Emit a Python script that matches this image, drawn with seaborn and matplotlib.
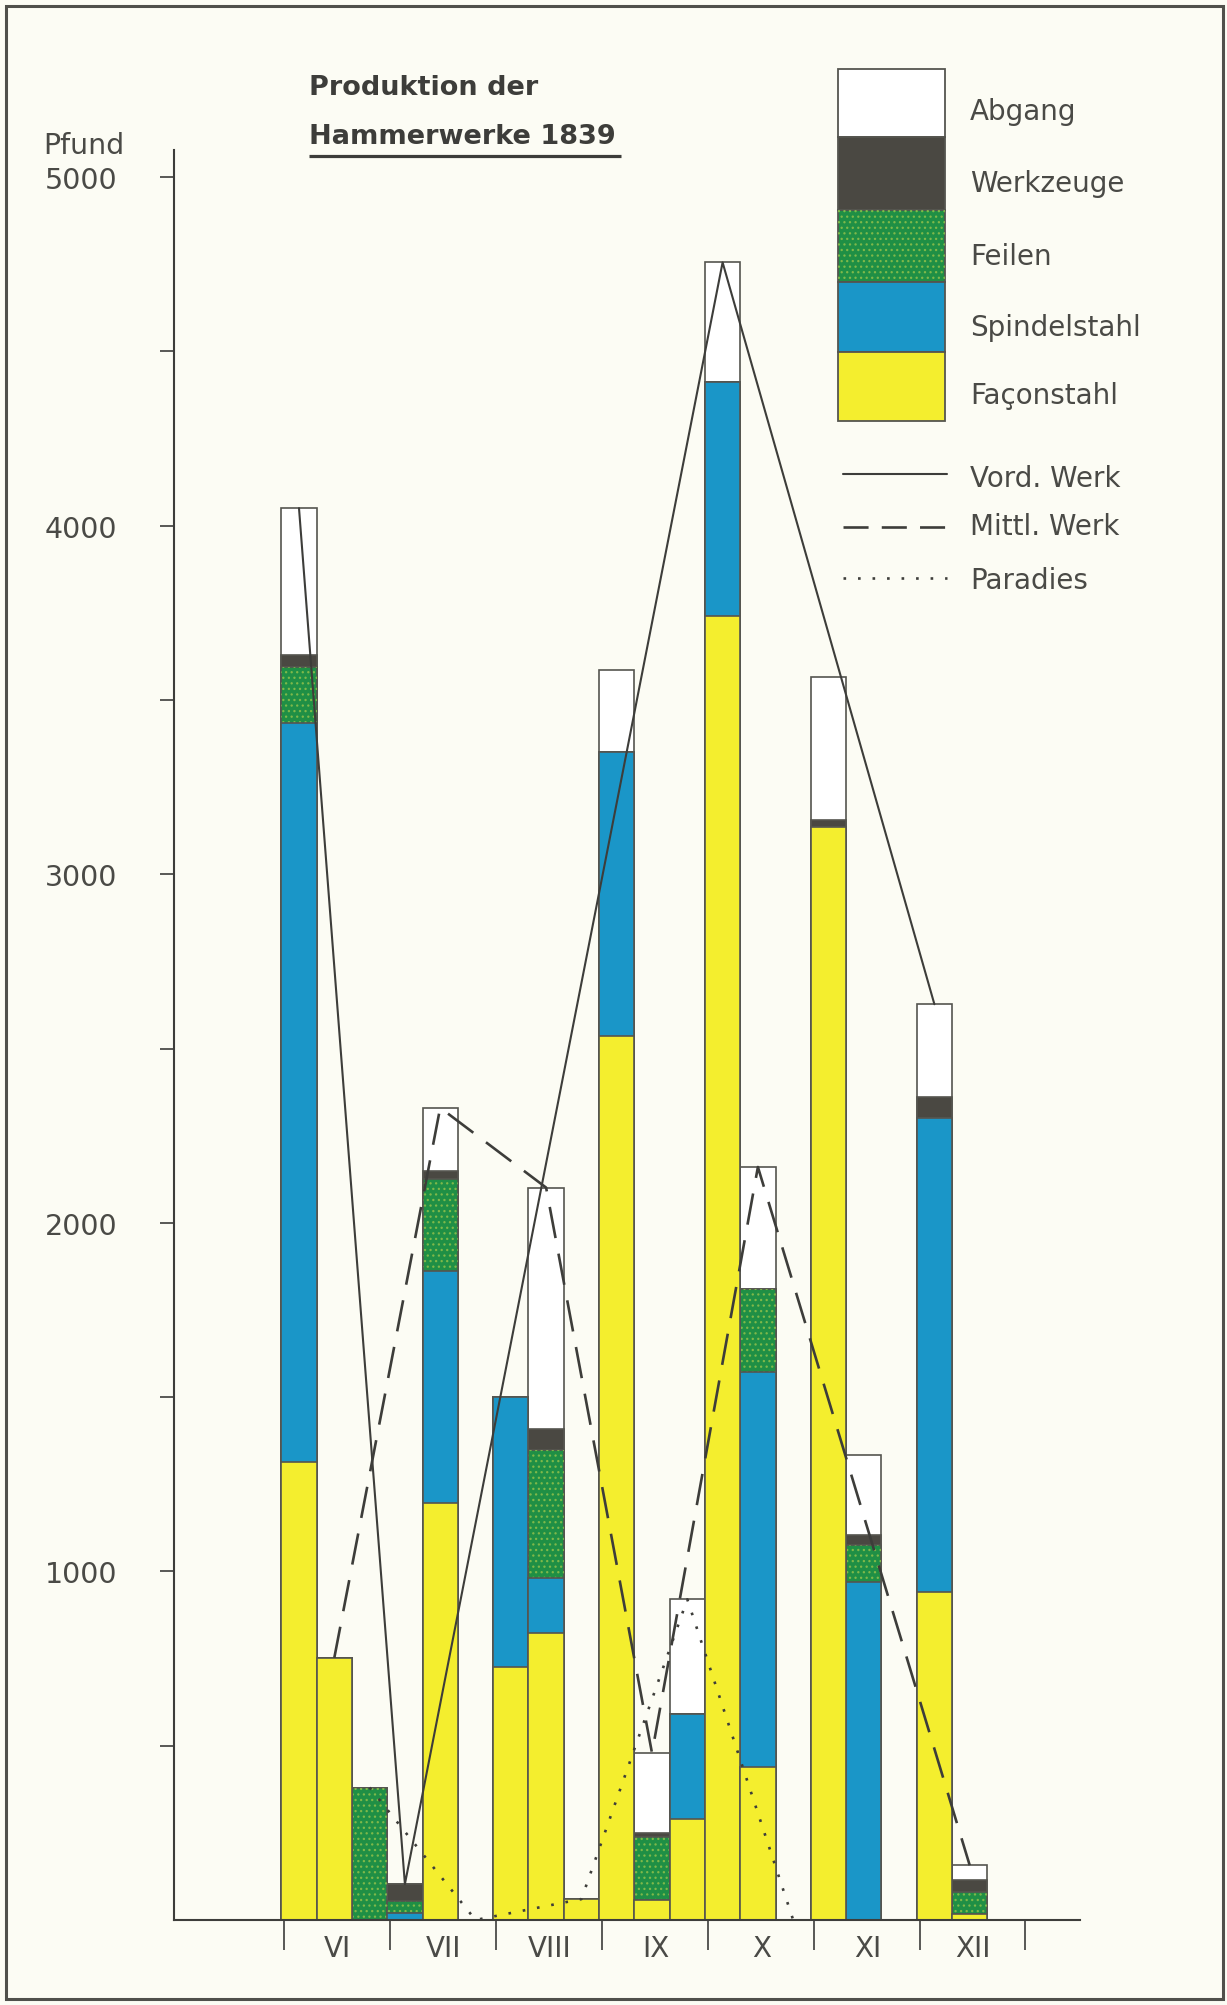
import numpy as np
import pandas as pd
import matplotlib
matplotlib.use("Agg")
import matplotlib.pyplot as plt
from matplotlib.patches import Rectangle
import seaborn as sns

# ------------------------------------------------------------
# Data: production of the hammer works 1839 (pounds)
# one bar per works and month: Vord. Werk, Mittl. Werk, Paradies
# ------------------------------------------------------------
months = ["VI", "VII", "VIII", "IX", "X", "XI", "XII"]
works = ["Vord. Werk", "Mittl. Werk", "Paradies"]

facon = [1315, 752, 0, 0, 1195, 0, 725, 822, 60, 2536, 57, 290,
         3740, 438, 0, 3135, 0, 0, 940, 18, 0]
spindel = [2120, 0, 0, 20, 667, 0, 775, 158, 0, 814, 0, 300,
           673, 1135, 0, 0, 970, 0, 1360, 0, 0]
feilen = [160, 0, 380, 35, 263, 0, 0, 368, 0, 0, 180, 0,
          0, 238, 0, 0, 105, 0, 0, 63, 0]
werkzeuge = [35, 0, 0, 48, 25, 0, 0, 60, 0, 0, 12, 0,
             0, 0, 0, 20, 29, 0, 60, 34, 0]
abgang = [420, 0, 0, 0, 180, 0, 0, 693, 0, 237, 230, 330,
          342, 349, 0, 410, 231, 0, 267, 42, 0]

# bars the three works lines are drawn through
vord_bars = [0, 3, 12, 18]
mittl_bars = [1, 4, 7, 10, 13, 19]
paradies_bars = [2, 5, 8, 11, 14]

# ------------------------------------------------------------
# Styles
# ------------------------------------------------------------
BG = "#fcfcf4"
INK = "#3d3d3a"
EDGE = "#55554f"
C_FACON = "#f4ee2e"
C_SPINDEL = "#1a96c8"
C_FEILEN = "#1f8f45"
C_WERKZ = "#4a4842"
C_ABGANG = "#ffffff"
C_DOTS = "#7fb84a"

sns.set_style("ticks")
plt.rcParams["font.family"] = ["DejaVu Sans"]
plt.rcParams["hatch.linewidth"] = 0.9

W, H = 1227, 2006
fig = plt.figure(figsize=(W / 100, H / 100), dpi=100, facecolor=BG)

# main axes placed in pixel terms
x0, x1 = 174, 1080
y_base, y_top = 1921, 151
ax = fig.add_axes([x0 / W, 1 - y_base / H, (x1 - x0) / W, (y_base - y_top) / H])
ax.set_facecolor(BG)

df = pd.DataFrame({
    "slot": np.arange(len(facon)),
    "month": np.repeat(months, 3),
    "work": works * len(months),
    "facon": facon, "spindel": spindel, "feilen": feilen,
    "werkzeuge": werkzeuge, "abgang": abgang,
})
df["c_facon"] = df["facon"]
df["c_spindel"] = df["c_facon"] + df["spindel"]
df["c_feilen"] = df["c_spindel"] + df["feilen"]
df["c_werkz"] = df["c_feilen"] + df["werkzeuge"]
df["total"] = df["c_werkz"] + df["abgang"]

bar_kw = dict(x="slot", width=1.0, saturation=1, errorbar=None,
              edgecolor=EDGE, linewidth=1.2, ax=ax)

# stacked bars: draw cumulative heights from the top down
sns.barplot(data=df, y="total", color=C_ABGANG, zorder=2, **bar_kw)
sns.barplot(data=df, y="c_werkz", color=C_WERKZ, zorder=2, **bar_kw)
sns.barplot(data=df, y="c_feilen", color=C_FEILEN, zorder=2, **bar_kw)
n_before = len(ax.patches)
sns.barplot(data=df, y="c_feilen", color=C_FEILEN, zorder=2, **bar_kw)
for p in ax.patches[n_before:]:
    p.set_facecolor("none")
    p.set_edgecolor(C_DOTS)
    p.set_hatch("...")
    p.set_linewidth(0)
sns.barplot(data=df, y="c_spindel", color=C_SPINDEL, zorder=2, **bar_kw)
sns.barplot(data=df, y="c_facon", color=C_FACON, zorder=2, **bar_kw)

# works lines through the bar tops
line_styles = [
    (vord_bars, "-", 1.5),
    (mittl_bars, (0, (12, 6)), 1.9),
    (paradies_bars, (0, (1, 4.5)), 1.9),
]
for bars, ls, lw in line_styles:
    pts = df.loc[bars]
    sns.lineplot(x=pts["slot"].values, y=pts["total"].values, ax=ax,
                 color=INK, linestyle=ls, linewidth=lw, zorder=4)

# axes
px_per_slot = 35.3
slot0_px = 299
px_per_unit = (y_base - 178) / 5000
ax.set_xlim((x0 - slot0_px) / px_per_slot, (x1 - slot0_px) / px_per_slot)
ax.set_ylim(0, (y_base - y_top) / px_per_unit)
sns.despine(ax=ax)
for s in ["left", "bottom"]:
    ax.spines[s].set_color(INK)
    ax.spines[s].set_linewidth(1.5)

ax.set_yticks(range(1000, 5001, 1000))
ax.set_yticks(range(500, 5000, 1000), minor=True)
ax.tick_params(axis="y", which="both", direction="out", length=10, width=1.2,
               color=INK, labelsize=20.5, labelcolor="#4a4a46", pad=31)

ax.set_xticks([3 * k - 0.5 + 0.08 for k in range(len(months) + 1)])
ax.set_xticklabels([])
ax.tick_params(axis="x", direction="out", length=21.5, width=1.2, color=INK)
ax.set_xlabel("")
ax.set_ylabel("")

for k, m in enumerate(months):
    ax.text(3 * k + 1.1, -(1957 - y_base) / px_per_unit, m, ha="center",
            va="baseline", fontsize=20, color="#4a4a46", clip_on=False)

# ------------------------------------------------------------
# overlay: title, legend, frame (pixel coordinates)
# ------------------------------------------------------------
ov = fig.add_axes([0, 0, 1, 1], facecolor="none")
ov.set_xlim(0, W)
ov.set_ylim(H, 0)
ov.axis("off")

ov.text(43, 154, "Pfund", fontsize=20.5, color="#4a4a46", va="baseline")
ov.text(309, 95, "Produktion der", fontsize=19.5, fontweight="bold",
        color=INK, va="baseline")
ov.text(309, 144, "Hammerwerke 1839", fontsize=19.5, fontweight="bold",
        color=INK, va="baseline")
ov.plot([309, 621], [157, 157], color=INK, lw=2.3, solid_capstyle="butt")

legend_rows = [
    ("Abgang", C_ABGANG, 70, 138, 120),
    ("Werkzeuge", C_WERKZ, 138, 211, 192),
    ("Feilen", C_FEILEN, 211, 283, 265),
    ("Spindelstahl", C_SPINDEL, 283, 353, 336),
    ("Façonstahl", C_FACON, 353, 422, 404),
]
for label, col, top, bot, base in legend_rows:
    ov.add_patch(Rectangle((838, top), 107, bot - top, facecolor=col,
                           edgecolor=EDGE, lw=1.3))
    if label == "Feilen":
        ov.add_patch(Rectangle((838, top), 107, bot - top, facecolor="none",
                               edgecolor=C_DOTS, hatch="...", lw=0))
    ov.text(970, base, label, fontsize=20, color="#4a4a46", va="baseline")

legend_lines = [
    ("Vord. Werk", "-", 1.5, 475, 487),
    ("Mittl. Werk", (0, (9.5, 5)), 1.9, 528, 535),
    ("Paradies", (0, (1, 4.5)), 1.9, 579, 589),
]
for label, ls, lw, y, base in legend_lines:
    ov.plot([843, 947], [y, y], color=INK, linestyle=ls, lw=lw)
    ov.text(970, base, label, fontsize=20, color="#4a4a46", va="baseline")

ov.add_patch(Rectangle((6, 7), 1217, 1993, fill=False, edgecolor="#50504b",
                       lw=2.2))

fig.savefig("out.png", dpi=100, facecolor=BG)
